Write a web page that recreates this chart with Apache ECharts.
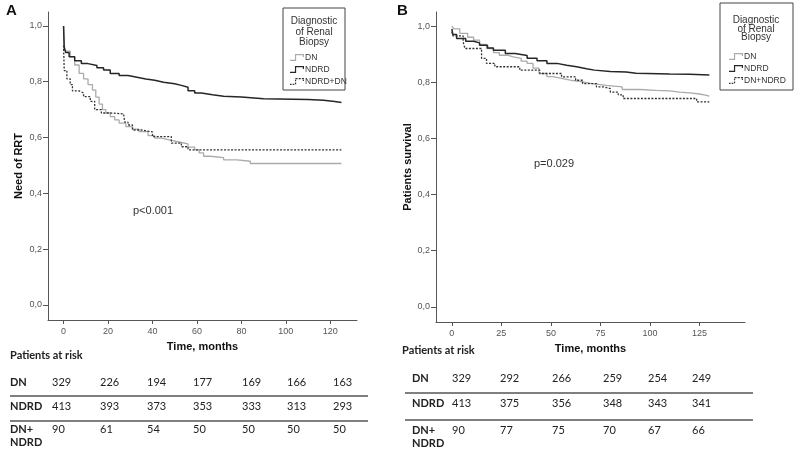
<!DOCTYPE html>
<html>
<head>
<meta charset="utf-8">
<script src="https://cdn.jsdelivr.net/npm/echarts@6/dist/echarts.min.js"></script>
<style>
html,body{margin:0;padding:0;background:#fff;}
#chart{width:800px;height:453px;}
</style>
</head>
<body>
<div id="chart"></div>
<script>
// ---------- DATA ----------
// Panel A: Need of RRT (time in months, survival proportion)
const A_DN_t    = [0, 0.3, 1, 3, 5, 7, 9, 11, 13, 14.5, 16, 17.5, 19, 21, 23, 25, 28, 31, 34, 38, 41, 44, 48, 52, 56, 59, 61, 63, 66, 72, 78, 84, 125];
const A_DN_v    = [1.0, 0.93, 0.91, 0.89, 0.86, 0.83, 0.81, 0.79, 0.77, 0.745, 0.72, 0.70, 0.688, 0.675, 0.663, 0.652, 0.639, 0.63, 0.621, 0.607, 0.598, 0.591, 0.584, 0.577, 0.566, 0.556, 0.545, 0.533, 0.528, 0.52, 0.515, 0.507, 0.505];
const A_NDRD_t  = [0, 0.3, 1, 2.5, 5, 8, 11, 15, 18, 21, 25, 29, 33, 37, 41, 45, 50, 53, 56, 59, 62, 67, 72, 80, 90, 110, 117, 122, 125];
const A_NDRD_v  = [1.0, 0.92, 0.905, 0.89, 0.875, 0.865, 0.858, 0.85, 0.842, 0.83, 0.822, 0.816, 0.81, 0.805, 0.798, 0.793, 0.787, 0.78, 0.768, 0.76, 0.753, 0.748, 0.745, 0.739, 0.736, 0.734, 0.729, 0.726, 0.724];
const A_MIX_t   = [0, 0.3, 1.5, 3, 4, 7, 9, 12, 14, 17, 21, 27, 27.5, 29, 31, 35, 40, 48.5, 53, 56, 125];
const A_MIX_v   = [0.93, 0.84, 0.81, 0.79, 0.767, 0.76, 0.747, 0.73, 0.70, 0.688, 0.685, 0.683, 0.655, 0.645, 0.627, 0.62, 0.603, 0.58, 0.567, 0.556, 0.556];
// Panel B: Patients survival
const B_DN_t    = [0, 1, 4, 8, 11, 14, 17.5, 21, 24, 28, 31, 35, 38, 41, 44, 48, 51, 56, 61, 66, 71, 78, 86, 95, 103, 110, 115, 120, 125, 128, 130];
const B_DN_v    = [1.0, 0.99, 0.974, 0.96, 0.95, 0.935, 0.92, 0.905, 0.896, 0.89, 0.885, 0.875, 0.867, 0.85, 0.831, 0.82, 0.813, 0.806, 0.801, 0.795, 0.789, 0.783, 0.774, 0.771, 0.769, 0.765, 0.762, 0.758, 0.754, 0.75, 0.748];
const B_NDRD_t  = [0, 0.5, 2.4, 7, 11, 14, 18, 21, 27, 32, 38, 43, 48, 53, 58, 63, 68, 72, 80, 88, 93, 110, 120, 130];
const B_NDRD_v  = [0.99, 0.97, 0.956, 0.946, 0.94, 0.932, 0.922, 0.914, 0.902, 0.895, 0.885, 0.876, 0.867, 0.86, 0.855, 0.848, 0.843, 0.838, 0.836, 0.832, 0.829, 0.828, 0.826, 0.825];
const B_MIX_t   = [0, 0.5, 5.7, 6.6, 15, 17.5, 21.7, 34.3, 44.4, 55.4, 62.5, 66, 73, 77, 80, 84, 86.5, 123.6, 130];
const B_MIX_v   = [0.98, 0.965, 0.944, 0.92, 0.885, 0.867, 0.855, 0.843, 0.831, 0.819, 0.807, 0.795, 0.783, 0.777, 0.765, 0.755, 0.742, 0.73, 0.73];

// Axis ticks
const A_xTicks = [0, 20, 40, 60, 80, 100, 120];
const B_xTicks = [0, 25, 50, 75, 100, 125];
const yTicks   = [0, 0.2, 0.4, 0.6, 0.8, 1.0];

// Series names
const A_names = ['DN', 'NDRD', 'NDRD+DN'];
const B_names = ['DN', 'NDRD', 'DN+NDRD'];

// Patients at risk
const A_riskLabels = ['DN', 'NDRD', 'DN+\nNDRD'];
const A_risk_DN    = [329, 226, 194, 177, 169, 166, 163];
const A_risk_NDRD  = [413, 393, 373, 353, 333, 313, 293];
const A_risk_MIX   = [90, 61, 54, 50, 50, 50, 50];
const B_riskLabels = ['DN', 'NDRD', 'DN+\nNDRD'];
const B_risk_DN    = [329, 292, 266, 259, 254, 249];
const B_risk_NDRD  = [413, 375, 356, 348, 343, 341];
const B_risk_MIX   = [90, 77, 75, 70, 67, 66];

// ---------- LAYOUT ----------
const zip = (t, v) => t.map((x, i) => [x, v[i]]);
// step-shaped legend glyphs (built from thin rectangles)
const r = (x, y, w, h) => `M${x},${y}h${w}v${h}h${-w}Z`;
const solidGlyph = 'path://' + r(0, 5.2, 5.6, 1.1) + r(4.6, 0, 1.1, 6.3) + r(4.6, 0, 8, 1.1) + r(11.9, 0, 1.1, 2.6);
const dashGlyph  = 'path://' + r(0, 5.2, 1.5, 1.1) + r(2.5, 5.2, 1.5, 1.1) + r(4.6, 4, 1.1, 1.6) + r(4.6, 1.5, 1.1, 1.5) + r(5, 0, 2, 1.1) + r(8, 0, 2, 1.1) + r(11, 0, 2, 1.1) + r(11.9, 1.6, 1.1, 1.2) + r(0, 0, 0.01, 0.01);
const styles = [
  {color: '#ababab', width: 1.3, type: 'solid', glyph: solidGlyph},
  {color: '#262626', width: 1.5, type: 'solid', glyph: solidGlyph},
  {color: '#333333', width: 1.3, type: [2, 1.5], glyph: dashGlyph}
];
function mkSeries(name, data, idx, st) {
  return {
    type: 'line', name: name, data: data, step: 'end',
    xAxisIndex: idx, yAxisIndex: idx, showSymbol: false, symbol: 'none',
    lineStyle: {color: st.color, width: st.width, type: st.type},
    itemStyle: {color: st.color}, animation: false, silent: true
  };
}
const fmtY = v => v.toFixed(1).replace('.', ',');
const axisLine = {show: true, onZero: false, lineStyle: {color: '#555', width: 1}};
const nameStyle = {color: '#111', fontSize: 11, fontWeight: 'bold', fontFamily: 'Liberation Sans'};
function xAx(idx, min, max, ticks) {
  return {
    type: 'value', gridIndex: idx, min: min, max: max,
    name: 'Time, months', nameLocation: 'middle', nameGap: 21, nameTextStyle: nameStyle,
    axisLine: axisLine, splitLine: {show: false},
    axisTick: {show: true, length: 4, lineStyle: {color: '#555'}, customValues: ticks},
    axisLabel: {color: '#555', fontSize: 9, fontFamily: 'Liberation Sans', margin: 7, customValues: ticks}
  };
}
function yAx(idx, name, gap) {
  return {
    type: 'value', gridIndex: idx, min: -0.054, max: 1.05,
    name: name, nameLocation: 'middle', nameGap: gap, nameRotate: 90, nameTextStyle: nameStyle,
    axisLine: axisLine, splitLine: {show: false},
    axisTick: {show: true, length: 5, lineStyle: {color: '#555'}, customValues: yTicks},
    axisLabel: {color: '#555', fontSize: 9, fontFamily: 'Liberation Sans', margin: 6, customValues: yTicks, formatter: fmtY}
  };
}

const tFont = 'Lato';
function tableGraphics(opt) {
  const g = [];
  g.push({type: 'text', x: opt.headX, y: opt.headY,
    style: {text: 'Patients at risk', font: 'bold 11px ' + tFont, fill: '#222', verticalAlign: 'middle'}});
  opt.rows.forEach((row, ri) => {
    const lines = opt.labels[ri].split('\n');
    lines.forEach((ln, li) => {
      g.push({type: 'text', x: opt.labelX, y: opt.rowY[ri] + li * 13.5,
        style: {text: ln, font: 'bold 11px ' + tFont, fill: '#222', verticalAlign: 'middle'}});
    });
    row.forEach((v, ci) => {
      g.push({type: 'text', x: opt.colX[ci], y: opt.rowY[ri],
        style: {text: String(v), font: '11px ' + tFont, fill: '#222', verticalAlign: 'middle'}});
    });
  });
  opt.lineY.forEach(y => {
    g.push({type: 'line', shape: {x1: opt.lineX[0], y1: y, x2: opt.lineX[1], y2: y},
      style: {stroke: '#555', lineWidth: 1.5}});
  });
  return g;
}

const graphics = [
  {type: 'text', left: 6, top: 3, style: {text: 'A', font: 'bold 15px Liberation Sans', fill: '#111'}},
  {type: 'text', left: 397, top: 3, style: {text: 'B', font: 'bold 15px Liberation Sans', fill: '#111'}},
  // legend boxes
  {type: 'rect', shape: {x: 283, y: 8, width: 62, height: 82}, style: {fill: '#fff', stroke: '#444', lineWidth: 1}, z: 0},
  {type: 'rect', shape: {x: 720, y: 3, width: 73, height: 87}, style: {fill: '#fff', stroke: '#444', lineWidth: 1}, z: 0},
  {type: 'text', x: 314, y: 16, z: 10, style: {text: 'Diagnostic\nof Renal\nBiopsy', font: '10px Liberation Sans', fill: '#333', align: 'center', lineHeight: 10.5}},
  {type: 'text', x: 756, y: 16, z: 10, style: {text: 'Diagnostic\nof Renal\nBiopsy', font: '10px Liberation Sans', fill: '#333', align: 'center', lineHeight: 8.6}},
  // p values
  {type: 'text', left: 133, top: 205, style: {text: 'p<0.001', font: '11px Liberation Sans', fill: '#333'}},
  {type: 'text', left: 534, top: 158, style: {text: 'p=0.029', font: '11px Liberation Sans', fill: '#333'}}
].concat(tableGraphics({
  headX: 10, headY: 355, labelX: 10, labels: A_riskLabels,
  rows: [A_risk_DN, A_risk_NDRD, A_risk_MIX], rowY: [382, 406, 429],
  colX: [52, 100, 147, 193, 242, 287, 333], lineY: [396, 421], lineX: [10, 368]
})).concat(tableGraphics({
  headX: 402, headY: 350, labelX: 412, labels: B_riskLabels,
  rows: [B_risk_DN, B_risk_NDRD, B_risk_MIX], rowY: [378, 403, 430],
  colX: [452, 500, 552, 603, 648, 692], lineY: [393, 420], lineX: [405, 753]
}));

const legendText = {fontSize: 8.5, color: '#333', fontFamily: 'Liberation Sans', padding: [0, 0, 0, -4]};
const legendData = names => names.map((n, i) => ({name: n, icon: styles[i].glyph}));
const option = {
  backgroundColor: '#fff',
  animation: false,
  grid: [
    {left: 48, top: 12, width: 309, height: 308},
    {left: 436, top: 12, width: 309, height: 310}
  ],
  xAxis: [xAx(0, -7, 132, A_xTicks), xAx(1, -8, 148, B_xTicks)],
  yAxis: [yAx(0, 'Need of RRT', 24), yAx(1, 'Patients survival', 17)],
  legend: [
    {data: legendData(A_names), orient: 'vertical', left: 290, top: 53, itemWidth: 14, itemHeight: 7, itemGap: 3, selectedMode: false,
     textStyle: legendText, padding: 0, z: 10},
    {data: legendData(B_names), orient: 'vertical', left: 729, top: 52, itemWidth: 14, itemHeight: 7, itemGap: 3, selectedMode: false,
     textStyle: legendText, padding: 0, z: 10}
  ],
  series: [
    mkSeries(A_names[0], zip(A_DN_t, A_DN_v), 0, styles[0]),
    mkSeries(A_names[1], zip(A_NDRD_t, A_NDRD_v), 0, styles[1]),
    mkSeries(A_names[2], zip(A_MIX_t, A_MIX_v), 0, styles[2]),
    mkSeries(B_names[0], zip(B_DN_t, B_DN_v), 1, styles[0]),
    mkSeries(B_names[1], zip(B_NDRD_t, B_NDRD_v), 1, styles[1]),
    mkSeries(B_names[2], zip(B_MIX_t, B_MIX_v), 1, styles[2])
  ],
  graphic: graphics
};
const chart = echarts.init(document.getElementById('chart'), null, {renderer: 'canvas'});
chart.setOption(option);
</script>
</body>
</html>
